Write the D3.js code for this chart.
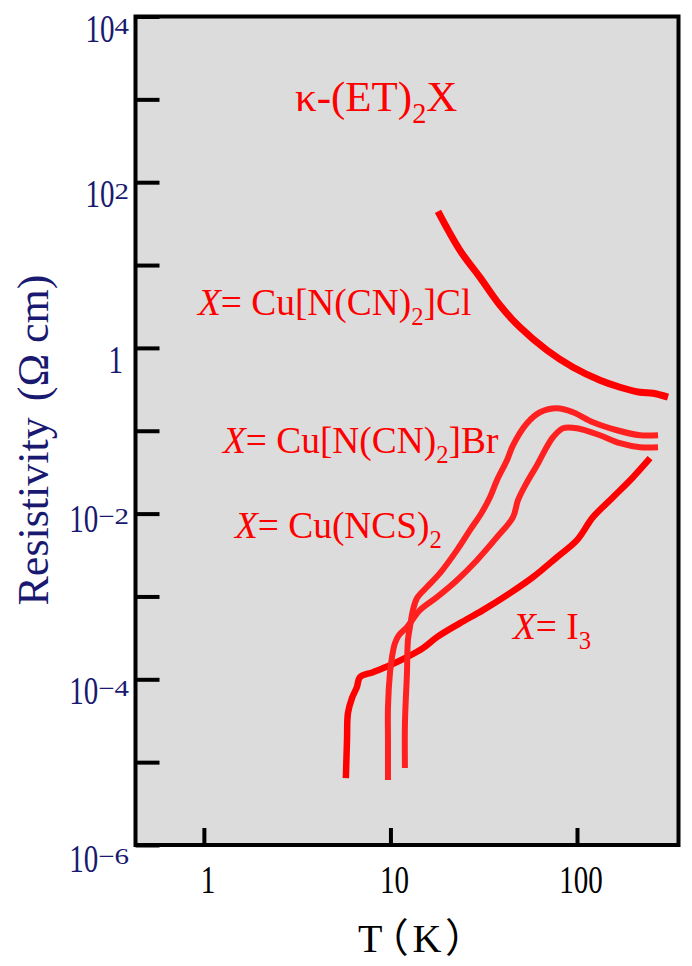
<!DOCTYPE html>
<html>
<head>
<meta charset="utf-8">
<script src="https://cdn.jsdelivr.net/npm/d3@7"></script>
<style>
  html, body { margin: 0; padding: 0; background: #fff; }
  svg { display: block; }
  text { font-family: "Liberation Serif", "Times New Roman", serif; }
  .xtitle { font-family: "Liberation Serif", "Noto Sans CJK SC", serif; font-feature-settings: "palt" 1; }
</style>
</head>
<body>
<div id="chart"></div>
<script>
// ---- data ----
const xTickValues = [1, 10, 100];
const xTickLabels = ["1", "10", "100"];
const yMajorValues = [1e4, 1e2, 1, 1e-2, 1e-4, 1e-6];
const yMajorExp = ["4", "2", "", "\u22122", "\u22124", "\u22126"];
const yMinorValues = [1e3, 10, 0.1, 1e-3, 1e-5];
const xTitle = "T\uFF08K\uFF09";
const yTitleMain = "Resistivity";
const yTitleUnit = "(\u03A9 cm)";

const clT   = [17.98, 23.59, 30.20, 38.65, 49.48, 69.05, 95.19, 132.8, 170.1, 217.7, 255.5, 307.5];
const clRho = [44.4, 15.04, 7.10, 3.27, 1.77, 0.936, 0.583, 0.407, 0.335, 0.291, 0.283, 0.254];

const brT   = [11.96, 11.96, 12.26, 12.41, 12.72, 13.20, 13.87, 15.69, 18.43, 22.73, 26.69, 30.95, 34.16, 37.24, 42.13, 45.38, 53.94, 63.32, 78.10, 95.19, 121.8, 163.9, 217.7, 271.9];
const brRho = [8.49e-6, 2.96e-5, 1.19e-4, 2.97e-4, 4.26e-4, 6.84e-4, 9.54e-4, 1.30e-3, 1.91e-3, 3.62e-3, 6.31e-3, 1.04e-2, 1.577e-2, 2.53e-2, 4.41e-2, 6.68e-2, 0.1232, 0.1672, 0.1868, 0.1672, 0.1266, 0.1014, 0.0882, 0.0882];

const ncsT   = [9.70, 9.70, 9.70, 9.94, 10.19, 10.57, 11.10, 12.26, 14.39, 17.76, 22.73, 29.09, 37.24, 45.38, 48.27, 53.94, 61.02, 67.33, 74.34, 84.13, 100, 132.8, 170.1, 217.7, 271.9];
const ncsRho = [6.08e-6, 1.85e-5, 4.62e-5, 1.19e-4, 1.85e-4, 2.73e-4, 3.41e-4, 4.26e-4, 6.84e-4, 9.81e-4, 1.57e-3, 2.74e-3, 5.19e-3, 9.05e-3, 1.451e-2, 2.39e-2, 3.84e-2, 5.82e-2, 8.35e-2, 0.1072, 0.1072, 0.0882, 0.0707, 0.0632, 0.0632];

const i3T   = [5.77, 5.85, 5.92, 6.22, 6.61, 6.86, 8.06, 9.94, 12.26, 14.94, 17.76, 23.59, 31.33, 43.73, 58.08, 78.10, 100, 121.8, 156.0, 199.7, 246.3];
const i3Rho = [6.43e-6, 1.85e-5, 3.91e-5, 5.93e-5, 8.05e-5, 1.06e-4, 1.22e-4, 1.48e-4, 1.85e-4, 2.38e-4, 3.23e-4, 4.76e-4, 6.84e-4, 1.096e-3, 1.71e-3, 2.98e-3, 4.78e-3, 9.05e-3, 1.577e-2, 2.75e-2, 4.66e-2];

// ---- layout ----
const W = 692, H = 966;
const NAVY = "#191970", RED = "#ff0000", RED2 = "#ff2020", BG = "#dcdcdc";

const svg = d3.select("#chart").append("svg").attr("width", W).attr("height", H);

const x = d3.scaleLog().domain([0.43, 350]).range([135.5, 678.5]);
const y = d3.scaleLog().domain([1e-6, 1e4]).range([845, 16.5]);

// plot background
svg.append("rect")
  .attr("x", x.range()[0]).attr("y", y.range()[1])
  .attr("width", x.range()[1] - x.range()[0])
  .attr("height", y.range()[0] - y.range()[1])
  .attr("fill", BG).attr("stroke", "none");

// ticks (inward) via axes
const yAxis = d3.axisLeft(y).tickValues(yMajorValues.concat(yMinorValues)).tickSize(-24).tickFormat("");
const gy = svg.append("g").attr("transform", `translate(${x.range()[0]},0)`).call(yAxis);
gy.select(".domain").remove();
gy.selectAll(".tick line").attr("stroke", "#000").attr("stroke-width", 4);

const xAxis = d3.axisBottom(x).tickValues(xTickValues).tickSize(-17).tickFormat("");
const gx = svg.append("g").attr("transform", `translate(0,${y.range()[0]})`).call(xAxis);
gx.select(".domain").remove();
gx.selectAll(".tick line").attr("stroke", "#000").attr("stroke-width", 4);

// frame
svg.append("rect")
  .attr("x", x.range()[0]).attr("y", y.range()[1])
  .attr("width", x.range()[1] - x.range()[0])
  .attr("height", y.range()[0] - y.range()[1])
  .attr("fill", "none").attr("stroke", "#000").attr("stroke-width", 4);

// y tick labels (tall serif "10" with superscripts)
const yLabelNudge = [0, 0, 0, -7, 0, 2];
yMajorValues.forEach((v, i) => {
  const top = y(v) - 2 + yLabelNudge[i];
  let xr = 129;
  const exp = yMajorExp[i];
  if (exp) {
    const sup = svg.append("text")
      .attr("transform", `translate(${xr},${top + 19}) scale(1,0.8)`)
      .attr("text-anchor", "end").attr("font-size", 29).attr("fill", NAVY)
      .text(exp);
    xr -= sup.node().getComputedTextLength();
  } else {
    xr = 123;
  }
  svg.append("text")
    .attr("transform", `translate(${xr},${top + 27}) scale(1,1.38)`)
    .attr("text-anchor", "end").attr("font-size", 29).attr("fill", NAVY)
    .text(exp ? "10" : "1");
});

// x tick labels
xTickValues.forEach((v, i) => {
  svg.append("text")
    .attr("transform", `translate(${x(v) + 4},893) scale(1,1.38)`)
    .attr("text-anchor", "middle").attr("font-size", 29).attr("fill", "#000")
    .text(xTickLabels[i]);
});

// axis titles
svg.append("text").attr("class", "xtitle")
  .attr("x", 358).attr("y", 952)
  .attr("font-size", 40).attr("fill", "#000")
  .attr("letter-spacing", 5)
  .text(xTitle);

const yt = svg.append("text")
  .attr("transform", "translate(48,440) rotate(-90)")
  .attr("text-anchor", "middle").attr("font-size", 44).attr("fill", NAVY);
yt.append("tspan").text(yTitleMain);
yt.append("tspan").attr("dx", 16).text(yTitleUnit);

// curves
const line = d3.line().x(d => x(d[0])).y(d => y(d[1])).curve(d3.curveCatmullRom.alpha(0.5));
const series = [
  { T: clT, R: clRho, color: RED, w: 7 },
  { T: i3T, R: i3Rho, color: RED, w: 6.5 },
  { T: ncsT, R: ncsRho, color: RED2, w: 6 },
  { T: brT, R: brRho, color: RED2, w: 6 },
];
series.forEach(s => {
  svg.append("path")
    .datum(d3.zip(s.T, s.R))
    .attr("d", line)
    .attr("fill", "none").attr("stroke", s.color)
    .attr("stroke-width", s.w).attr("stroke-linejoin", "round").attr("stroke-linecap", "butt");
});

// annotations
function chemLabel(xp, yp, size, parts) {
  const t = svg.append("text").attr("x", xp).attr("y", yp).attr("font-size", size).attr("fill", RED);
  parts.forEach(p => {
    const ts = t.append("tspan").text(p.t);
    if (p.i) ts.attr("font-style", "italic");
    if (p.sub) ts.attr("font-size", size * 0.66).attr("dy", size * 0.28);
    if (p.after) ts.attr("dy", -size * 0.28);
  });
  return t;
}
chemLabel(295, 111, 43, [{ t: "\u03BA-(ET)" }, { t: "2", sub: true }, { t: "X", after: true }]);
chemLabel(198, 315, 37.4, [{ t: "X", i: true }, { t: "= Cu[N(CN)" }, { t: "2", sub: true }, { t: "]Cl", after: true }]);
chemLabel(223, 453, 37.4, [{ t: "X", i: true }, { t: "= Cu[N(CN)" }, { t: "2", sub: true }, { t: "]Br", after: true }]);
chemLabel(235, 538, 37.4, [{ t: "X", i: true }, { t: "= Cu(NCS)" }, { t: "2", sub: true }]);
chemLabel(513, 639, 37.4, [{ t: "X", i: true }, { t: "= I" }, { t: "3", sub: true }]);
</script>
</body>
</html>
